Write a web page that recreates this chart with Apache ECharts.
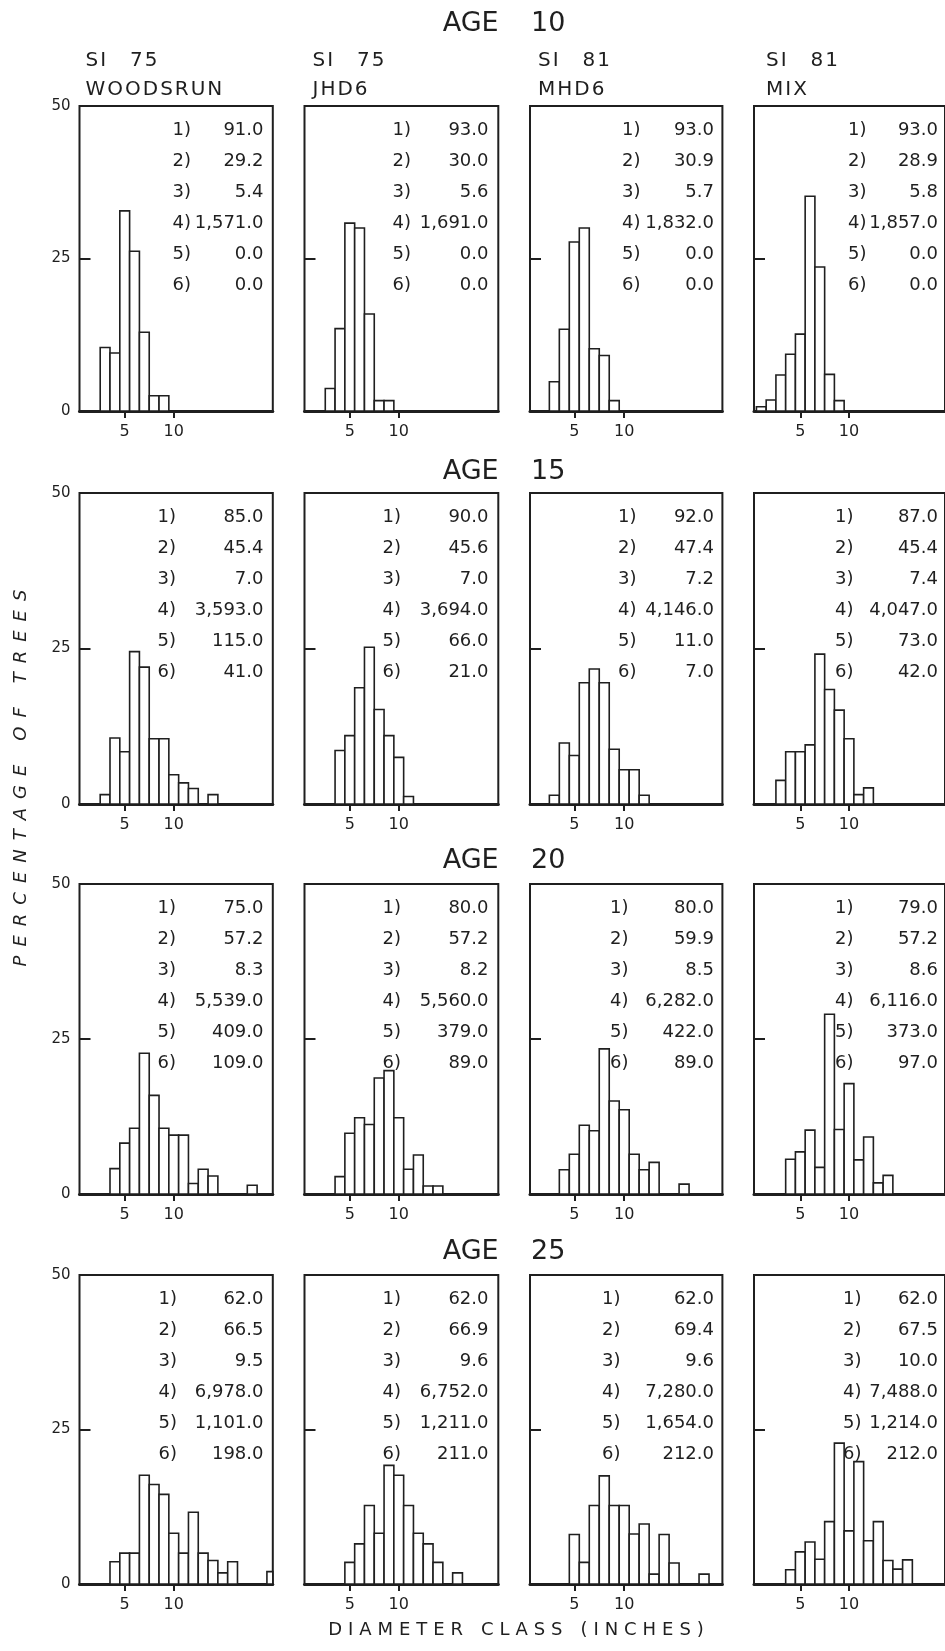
<!DOCTYPE html>
<html>
<head>
<meta charset="utf-8">
<script src="https://cdn.jsdelivr.net/npm/echarts@6/dist/echarts.min.js"></script>
<style>
html,body{margin:0;padding:0;background:#ffffff;}
#c{width:945px;height:1651px;}
</style>
</head>
<body>
<div id="c"></div>
<script>
// ---------------- DATA ----------------
const ageTitles = ['AGE 10', 'AGE 15', 'AGE 20', 'AGE 25'];
const siteIndexes = ['SI 75', 'SI 75', 'SI 81', 'SI 81'];
const standNames = ['WOODSRUN', 'JHD6', 'MHD6', 'MIX'];
const statLabels = ['1)', '2)', '3)', '4)', '5)', '6)'];
const xTickValues = [5, 10];
const yTickLabels = [0, 25, 50];
const yMarkTicks = [25];
const xAxisTitle = 'DIAMETER CLASS (INCHES)';
const yAxisTitle = 'PERCENTAGE OF TREES';

// [diameter class (inches), percentage of trees]
const age10_woodsrun = [[3,10.4],[4,9.5],[5,32.8],[6,26.2],[7,12.9],[8,2.5],[9,2.5]];
const age10_jhd6     = [[3,3.7],[4,13.5],[5,30.8],[6,30.0],[7,15.9],[8,1.7],[9,1.7]];
const age10_mhd6     = [[3,4.8],[4,13.4],[5,27.7],[6,30.0],[7,10.2],[8,9.1],[9,1.7]];
const age10_mix      = [[1,0.7],[2,1.8],[3,5.9],[4,9.3],[5,12.6],[6,35.2],[7,23.6],[8,6.0],[9,1.7]];

const age15_woodsrun = [[3,1.5],[4,10.6],[5,8.4],[6,24.5],[7,22.0],[8,10.5],[9,10.5],[10,4.7],[11,3.4],[12,2.5],[14,1.5]];
const age15_jhd6     = [[4,8.6],[5,11.0],[6,18.7],[7,25.2],[8,15.2],[9,11.0],[10,7.5],[11,1.2]];
const age15_mhd6     = [[3,1.4],[4,9.8],[5,7.8],[6,19.5],[7,21.7],[8,19.5],[9,8.8],[10,5.5],[11,5.5],[12,1.4]];
const age15_mix      = [[3,3.8],[4,8.4],[5,8.4],[6,9.5],[7,24.1],[8,18.4],[9,15.1],[10,10.5],[11,1.5],[12,2.6]];

const age20_woodsrun = [[4,4.1],[5,8.2],[6,10.6],[7,22.7],[8,15.9],[9,10.6],[10,9.5],[11,9.5],[12,1.7],[13,4.0],[14,2.9],[18,1.4]];
const age20_jhd6     = [[4,2.8],[5,9.8],[6,12.3],[7,11.2],[8,18.7],[9,19.9],[10,12.3],[11,4.0],[12,6.3],[13,1.3],[14,1.3]];
const age20_mhd6     = [[4,3.9],[5,6.4],[6,11.1],[7,10.2],[8,23.4],[9,15.0],[10,13.6],[11,6.4],[12,3.9],[13,5.1],[16,1.6]];
const age20_mix      = [[4,5.6],[5,6.8],[6,10.3],[7,4.3],[8,29.0],[9,10.4],[10,17.8],[11,5.5],[12,9.2],[13,1.8],[14,3.0]];

const age25_woodsrun = [[4,3.6],[5,5.0],[6,5.0],[7,17.6],[8,16.1],[9,14.5],[10,8.2],[11,5.0],[12,11.6],[13,5.0],[14,3.8],[15,1.8],[16,3.6],[20,2.0]];
const age25_jhd6     = [[5,3.5],[6,6.5],[7,12.7],[8,8.2],[9,19.2],[10,17.6],[11,12.7],[12,8.2],[13,6.5],[14,3.5],[16,1.8]];
const age25_mhd6     = [[5,8.0],[6,3.5],[7,12.7],[8,17.5],[9,12.7],[10,12.7],[11,8.1],[12,9.7],[13,1.6],[14,8.0],[15,3.4],[18,1.6]];
const age25_mix      = [[4,2.3],[5,5.2],[6,6.8],[7,4.0],[8,10.1],[9,22.8],[10,8.6],[11,19.8],[12,7.0],[13,10.1],[14,3.8],[15,2.4],[16,3.9]];

// stand statistics 1) - 6) per stand
const age10_stats = [
  ['91.0','29.2','5.4','1,571.0','0.0','0.0'],
  ['93.0','30.0','5.6','1,691.0','0.0','0.0'],
  ['93.0','30.9','5.7','1,832.0','0.0','0.0'],
  ['93.0','28.9','5.8','1,857.0','0.0','0.0']];
const age15_stats = [
  ['85.0','45.4','7.0','3,593.0','115.0','41.0'],
  ['90.0','45.6','7.0','3,694.0','66.0','21.0'],
  ['92.0','47.4','7.2','4,146.0','11.0','7.0'],
  ['87.0','45.4','7.4','4,047.0','73.0','42.0']];
const age20_stats = [
  ['75.0','57.2','8.3','5,539.0','409.0','109.0'],
  ['80.0','57.2','8.2','5,560.0','379.0','89.0'],
  ['80.0','59.9','8.5','6,282.0','422.0','89.0'],
  ['79.0','57.2','8.6','6,116.0','373.0','97.0']];
const age25_stats = [
  ['62.0','66.5','9.5','6,978.0','1,101.0','198.0'],
  ['62.0','66.9','9.6','6,752.0','1,211.0','211.0'],
  ['62.0','69.4','9.6','7,280.0','1,654.0','212.0'],
  ['62.0','67.5','10.0','7,488.0','1,214.0','212.0']];

// ---------------- LAYOUT ----------------
const INK = '#1f1f1f';
const FONT = 'DejaVu Sans';
const colFrame = [[79.5,193.3],[304.5,193.8],[530,192.4],[754,194]];   // left, width
const rowFrame = [[106,305],[493,311],[884,310],[1275,309]];          // top, height
const colXRange = [[0.39,20.1],[0.38,20.16],[0.56,19.84],[0.25,19.85]];
const ageTitleY = [24, 472, 861, 1252];
const statDy = [24, 55, 86, 117, 148, 179];
const statLabelDx = [[93,88,92,94],[78,78,88,81],[78,78,80,81],[79,78,72,89]];
const statValueDx = 184;
const headerDx = [6, 8, 8, 12];

const panels = [
  [age10_woodsrun, age10_jhd6, age10_mhd6, age10_mix],
  [age15_woodsrun, age15_jhd6, age15_mhd6, age15_mix],
  [age20_woodsrun, age20_jhd6, age20_mhd6, age20_mix],
  [age25_woodsrun, age25_jhd6, age25_mhd6, age25_mix]];
const stats = [age10_stats, age15_stats, age20_stats, age25_stats];

function track(s, sp, wordSp) {
  return s.split(' ').map(w => Array.from(w).join(sp)).join(wordSp);
}

function renderBar(params, api) {
  const x = api.value(0), v = api.value(1);
  const p1 = api.coord([x - 0.5, v]);
  const p2 = api.coord([x + 0.5, 0]);
  const cs = params.coordSys;
  const rect = echarts.graphic.clipRectByRect(
    {x: p1[0], y: p1[1], width: p2[0] - p1[0], height: p2[1] - p1[1]},
    {x: cs.x, y: cs.y, width: cs.width, height: cs.height});
  if (!rect) return null;
  return {type: 'rect', shape: rect, style: {fill: '#ffffff', stroke: INK, lineWidth: 1.6}};
}

const grids = [], xAxes = [], yAxes = [], series = [], graphics = [];
for (let r = 0; r < 4; r++) {
  for (let c = 0; c < 4; c++) {
    const idx = r * 4 + c;
    const left = colFrame[c][0], top = rowFrame[r][0];
    grids.push({left: left, top: top, width: colFrame[c][1], height: rowFrame[r][1],
      show: true, borderColor: INK, borderWidth: 2, backgroundColor: 'transparent'});
    xAxes.push({gridIndex: idx, type: 'value', min: colXRange[c][0], max: colXRange[c][1],
      axisLine: {show: true, onZero: false, lineStyle: {color: INK, width: 3}},
      axisTick: {show: true, length: 7, customValues: xTickValues, lineStyle: {color: INK, width: 2}},
      axisLabel: {show: true, customValues: xTickValues, margin: 13, fontSize: 16, color: INK, fontFamily: FONT},
      splitLine: {show: false}});
    yAxes.push({gridIndex: idx, type: 'value', min: 0, max: 50,
      axisLine: {show: false},
      axisTick: {show: true, inside: true, length: 11, customValues: yMarkTicks, lineStyle: {color: INK, width: 2}},
      axisLabel: {show: c === 0, customValues: yTickLabels, margin: 9, fontSize: 15, color: INK, fontFamily: FONT},
      splitLine: {show: false}});
    series.push({type: 'custom', xAxisIndex: idx, yAxisIndex: idx, data: panels[r][c],
      renderItem: renderBar, silent: true});
    for (let i = 0; i < 6; i++) {
      graphics.push({type: 'text', x: left + statLabelDx[r][c], y: top + statDy[i], silent: true,
        style: {text: statLabels[i], fill: INK, fontSize: 18, fontFamily: FONT, align: 'left', verticalAlign: 'middle'}});
      graphics.push({type: 'text', x: left + statValueDx, y: top + statDy[i], silent: true,
        style: {text: stats[r][c][i], fill: INK, fontSize: 18, fontFamily: FONT, align: 'right', verticalAlign: 'middle'}});
    }
  }
  graphics.push({type: 'text', x: 504, y: ageTitleY[r], silent: true,
    style: {text: track(ageTitles[r], '', '\u2003\u2009'), fill: INK, fontSize: 27, fontFamily: FONT, align: 'center', verticalAlign: 'middle'}});
}
for (let c = 0; c < 4; c++) {
  const left = colFrame[c][0] + headerDx[c];
  graphics.push({type: 'text', x: left, y: 61, silent: true,
    style: {text: track(siteIndexes[c], '\u200A', '\u2003\u2009'), fill: INK, fontSize: 20, fontFamily: FONT, align: 'left', verticalAlign: 'middle'}});
  graphics.push({type: 'text', x: left, y: 89.5, silent: true,
    style: {text: track(standNames[c], '\u200A', ' '), fill: INK, fontSize: 20, fontFamily: FONT, align: 'left', verticalAlign: 'middle'}});
}
graphics.push({type: 'text', x: 516, y: 1630, silent: true,
  style: {text: track(xAxisTitle, '\u2004', '\u2003'), fill: INK, fontSize: 18, fontFamily: FONT, align: 'center', verticalAlign: 'middle'}});
graphics.push({type: 'text', x: 21, y: 778, rotation: Math.PI / 2, silent: true,
  style: {text: track(yAxisTitle, '\u2002', '\u2003\u2004'), fill: INK, fontSize: 18, fontStyle: 'italic', fontFamily: FONT, align: 'center', verticalAlign: 'middle'}});

const chart = echarts.init(document.getElementById('c'), null, {renderer: 'canvas'});
chart.setOption({
  animation: false,
  backgroundColor: '#ffffff',
  textStyle: {fontFamily: FONT},
  grid: grids,
  xAxis: xAxes,
  yAxis: yAxes,
  series: series,
  graphic: {elements: graphics}
});
</script>
</body>
</html>
